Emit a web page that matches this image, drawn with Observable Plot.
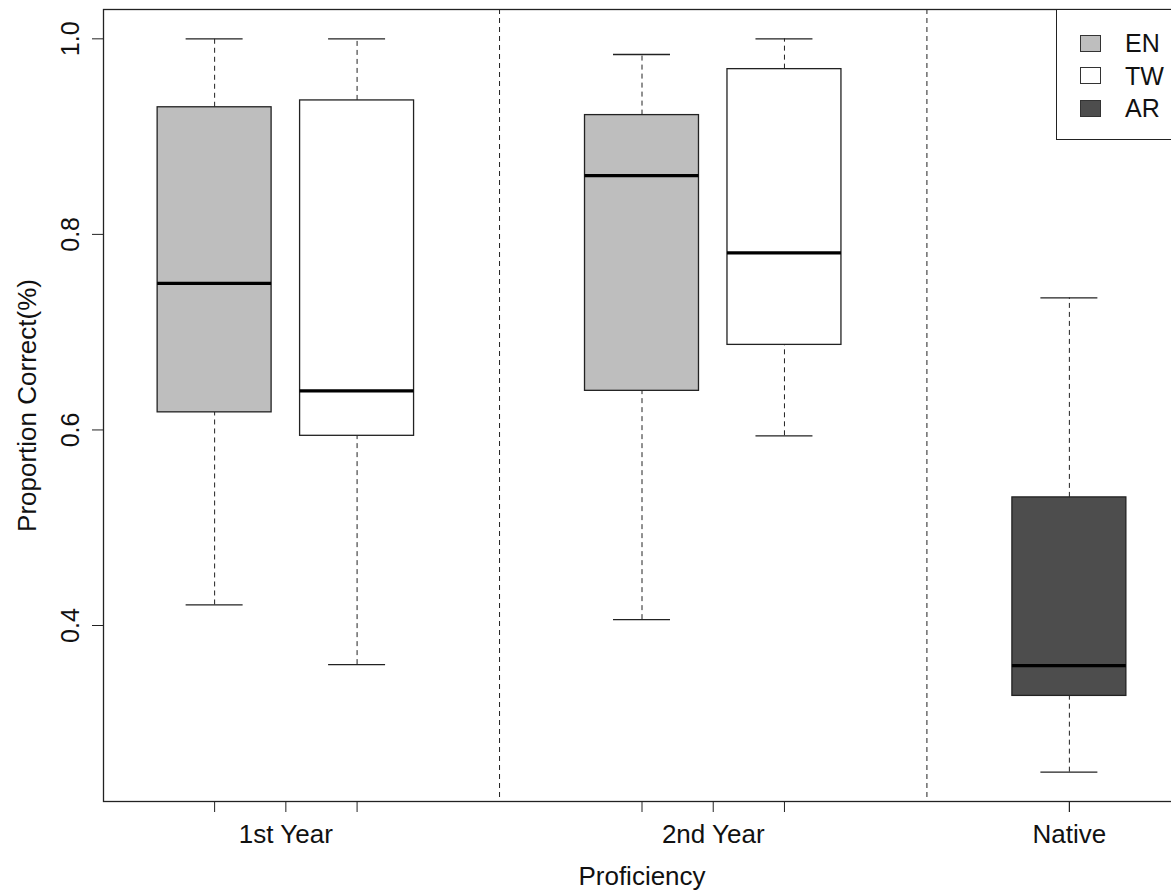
<!DOCTYPE html>
<html>
<head>
<meta charset="utf-8">
<script src="https://cdn.jsdelivr.net/npm/d3@7"></script>
<script src="https://cdn.jsdelivr.net/npm/@observablehq/plot@0.6"></script>
<style>
  html, body { margin: 0; padding: 0; background: white; }
  #wrap { position: relative; width: 1171px; height: 893px; overflow: hidden; font-family: "Liberation Sans", Arial, sans-serif; }
  #wrap svg { max-width: none !important; position: absolute; left: 0; top: 0; }
  #legend { position: absolute; left: 1056px; top: 9px; width: 200px; height: 131px; border: 1px solid #222; background: white; box-sizing: border-box; }
  .sw { position: absolute; left: 23px; width: 21px; height: 17px; border: 1px solid #333; box-sizing: border-box; }
  .lt { position: absolute; left: 68px; font-size: 25px; color: #111; line-height: 1; white-space: nowrap; }
</style>
</head>
<body>
<div id="wrap"><div id="legend"></div></div>
<script>
// ---- data ----
const groups   = ["1st Year", "1st Year", "2nd Year", "2nd Year", "Native"];
const series   = ["EN", "TW", "EN", "TW", "AR"];
const mins     = [0.421, 0.360, 0.406, 0.594, 0.250];
const q1s      = [0.618, 0.594, 0.640, 0.687, 0.328];
const medians  = [0.750, 0.640, 0.860, 0.781, 0.359];
const q3s      = [0.930, 0.937, 0.922, 0.969, 0.531];
const maxs     = [1.000, 1.000, 0.984, 1.000, 0.735];
const groupNames  = ["1st Year", "2nd Year", "Native"];
const seriesNames = ["EN", "TW", "AR"];
const seriesFill  = ["#BEBEBE", "#FFFFFF", "#4D4D4D"];
const yTicks = [0.4, 0.6, 0.8, 1.0];

// ---- layout derived from the structure (R boxplot style: slots 1..7) ----
const slotsPerGroup = 3;
const rows = groups.map((g, i) => {
  const gi = groupNames.indexOf(g);
  const within = groups.slice(0, i).filter(x => x === g).length;
  return {
    group: g, series: series[i],
    pos: gi * slotsPerGroup + 1 + within,
    min: mins[i], q1: q1s[i], med: medians[i], q3: q3s[i], max: maxs[i]
  };
});
const groupCenters = groupNames.map(g => d3.mean(rows.filter(r => r.group === g), r => r.pos));
const separators = groupNames.slice(1).map((g, i) => (i + 1) * slotsPerGroup);
const xTicks = [...rows.map(r => r.pos), ...groupCenters].sort((a, b) => a - b);
const nSlots = d3.max(rows, r => r.pos);
const xDomain = [0.5 - 0.04 * nSlots, nSlots + 0.5 + 0.04 * nSlots];
const yLo = d3.min(mins), yHi = d3.max(maxs), yPad = 0.04 * (yHi - yLo);
const fillOf = s => seriesFill[seriesNames.indexOf(s)];
const boxHalf = 0.4, capHalf = 0.2;
const FS = 26;

const chart = Plot.plot({
  width: 1180,
  height: 893,
  marginLeft: 103,
  marginRight: 0,
  marginTop: 9,
  marginBottom: 92,
  x: { domain: xDomain },
  y: { domain: [yLo - yPad, yHi + yPad] },
  style: { fontFamily: '"Liberation Sans", Arial, sans-serif', fontSize: FS + "px", background: "white", color: "#111", overflow: "visible", maxWidth: "none" },
  marks: [
    Plot.ruleX(separators, { x: d => d, stroke: "#222", strokeWidth: 1, strokeDasharray: "5,4" }),
    Plot.ruleX(rows, { x: "pos", y1: "q3", y2: "max", stroke: "#222", strokeDasharray: "5,4" }),
    Plot.ruleX(rows, { x: "pos", y1: "min", y2: "q1", stroke: "#222", strokeDasharray: "5,4" }),
    Plot.ruleY(rows, { y: "max", x1: d => d.pos - capHalf, x2: d => d.pos + capHalf, stroke: "#222", strokeWidth: 1.3 }),
    Plot.ruleY(rows, { y: "min", x1: d => d.pos - capHalf, x2: d => d.pos + capHalf, stroke: "#222", strokeWidth: 1.3 }),
    Plot.rect(rows, { x1: d => d.pos - boxHalf, x2: d => d.pos + boxHalf, y1: "q1", y2: "q3", fill: d => fillOf(d.series), stroke: "#222", strokeWidth: 1.3 }),
    Plot.ruleY(rows, { y: "med", x1: d => d.pos - boxHalf, x2: d => d.pos + boxHalf, stroke: "black", strokeWidth: 3.2 }),
    Plot.frame({ stroke: "#222", strokeWidth: 1.3 }),
    Plot.axisX({ ticks: xTicks, tickSize: 11, tickFormat: () => "", label: null, stroke: "#222" }),
    Plot.text(groupNames, { x: (d, i) => groupCenters[i], frameAnchor: "bottom", dy: 41, lineAnchor: "bottom", textAnchor: "middle", text: d => d, fontSize: FS, fill: "#111" }),
    Plot.axisY({ ticks: yTicks, tickSize: 11, tickFormat: () => "", label: null, stroke: "#222" }),
    Plot.text(yTicks, { y: d => d, frameAnchor: "left", dx: -25, rotate: -90, lineAnchor: "bottom", textAnchor: "middle", text: d => d.toFixed(1), fontSize: 25, fill: "#111" }),
    Plot.text(["Proficiency"], { frameAnchor: "bottom", dy: 83, lineAnchor: "bottom", textAnchor: "middle", text: d => d, fontSize: FS, fill: "#111" }),
    Plot.text(["Proportion Correct(%)"], { frameAnchor: "left", dx: -68, rotate: -90, lineAnchor: "bottom", textAnchor: "middle", text: d => d, fontSize: FS, fill: "#111" })
  ]
});
document.getElementById("wrap").prepend(chart);

// legend (R-style, top right)
const legend = document.getElementById("legend");
seriesNames.forEach((s, i) => {
  const cy = 33 + i * 32.7;
  const sw = document.createElement("div");
  sw.className = "sw";
  sw.style.top = (cy - 8.5) + "px";
  sw.style.background = seriesFill[i];
  legend.appendChild(sw);
  const t = document.createElement("div");
  t.className = "lt";
  t.style.top = (cy - 12) + "px";
  t.textContent = s;
  legend.appendChild(t);
});
</script>
</body>
</html>
